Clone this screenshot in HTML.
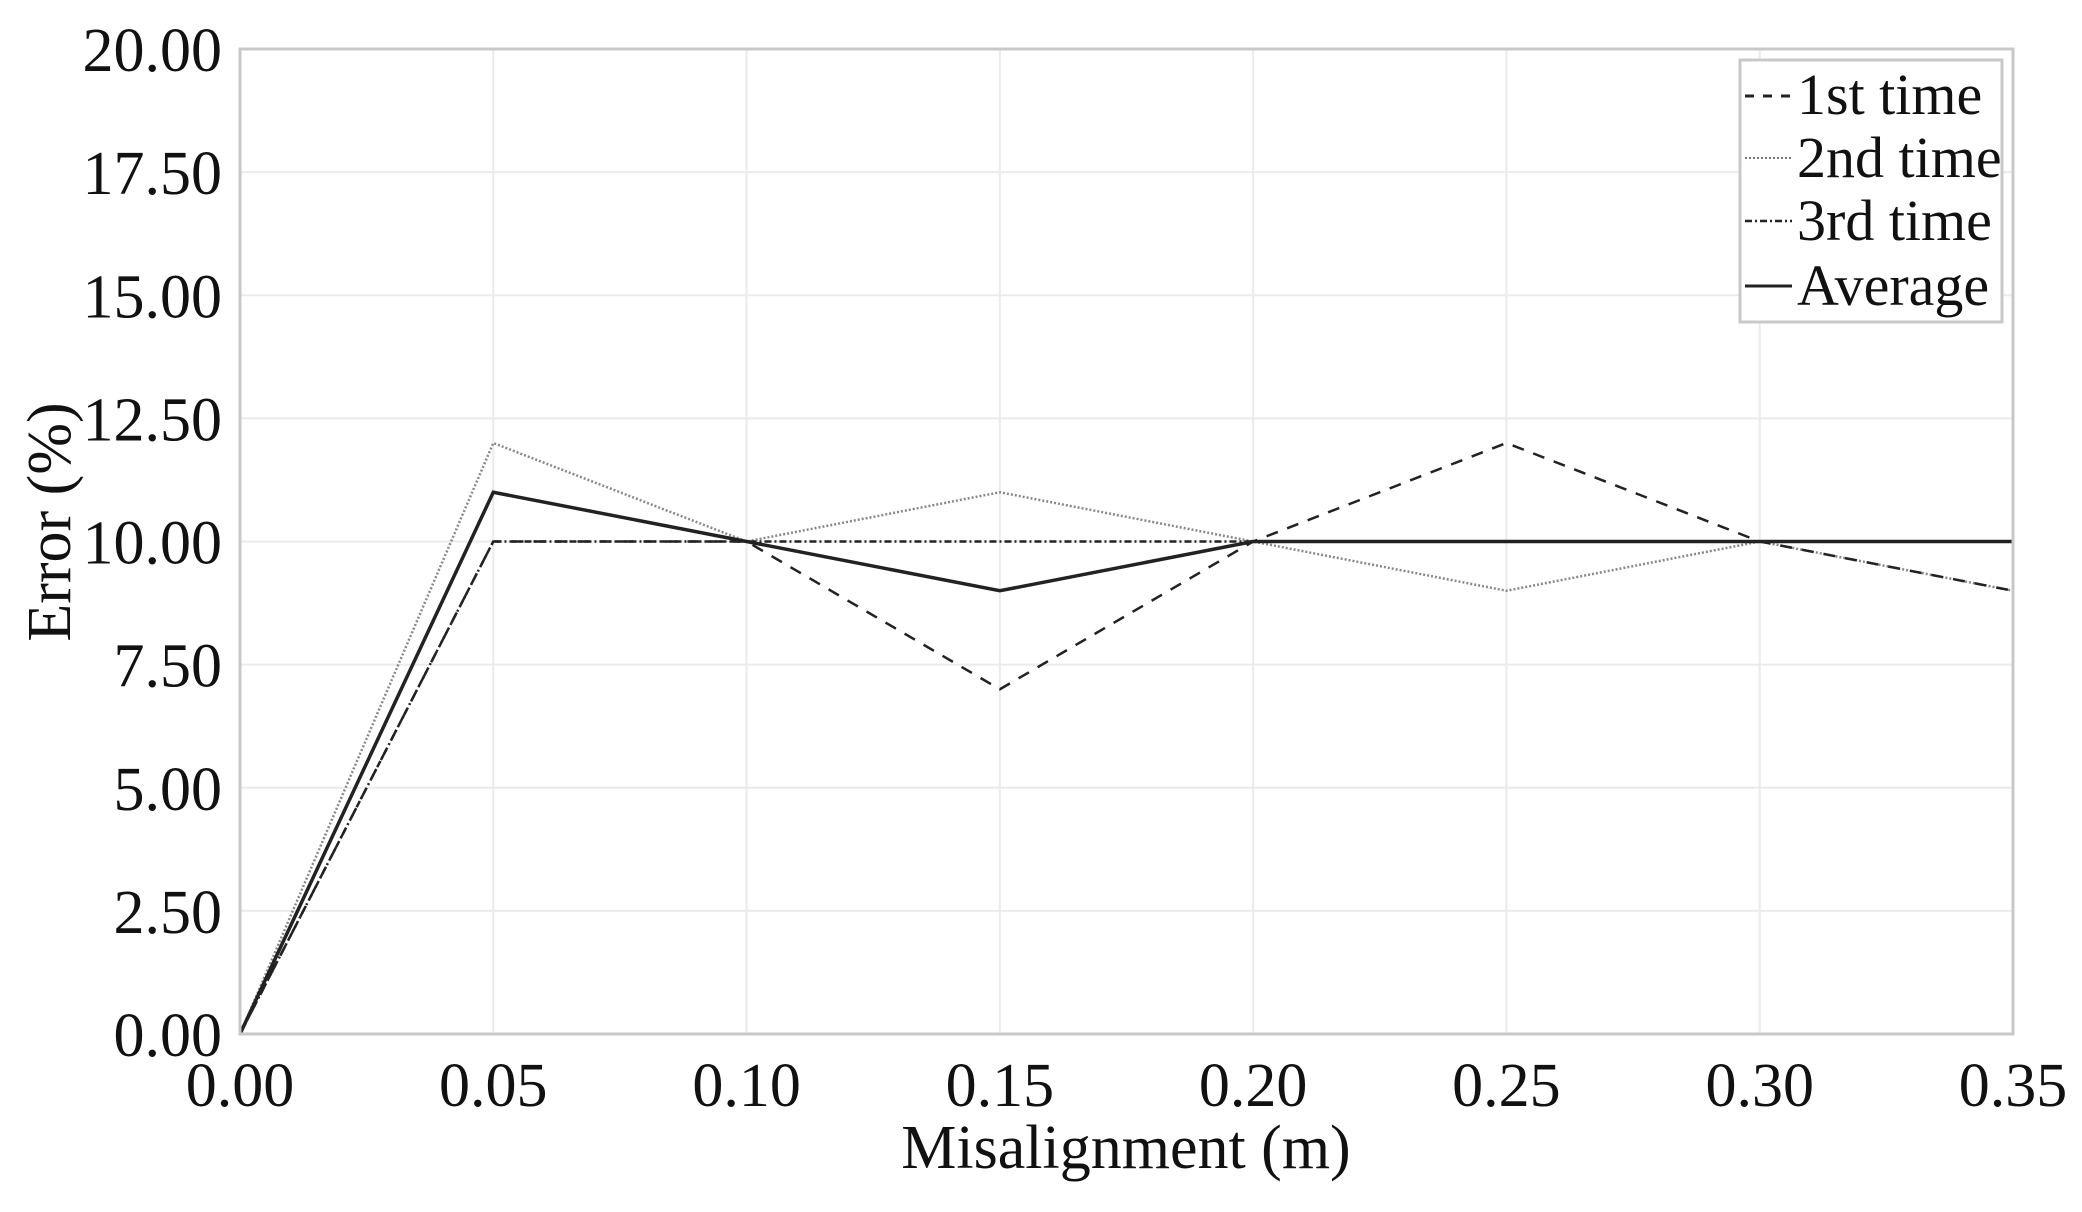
<!DOCTYPE html>
<html><head><meta charset="utf-8"><style>
html,body{margin:0;padding:0;background:#fff;}
svg{display:block;font-family:"Liberation Serif",serif;}
</style></head><body>
<svg id="chart" width="2082" height="1212" viewBox="0 0 2082 1212" xmlns="http://www.w3.org/2000/svg">
<g id="grid"></g>
<g id="series"></g>
<rect x="240" y="49" width="1773" height="985" fill="none" stroke="#c8c8c8" stroke-width="3"/>
<g id="ticks" font-size="62" fill="#111"></g>
<text x="1126" y="1168" font-size="62" text-anchor="middle" fill="#111">Misalignment (m)</text>
<text transform="translate(50,522) rotate(-90)" font-size="62" text-anchor="middle" dominant-baseline="central" fill="#111">Error (%)</text>
<g>
<rect x="1740" y="60" width="262" height="262" fill="#fff" stroke="#c8c8c8" stroke-width="3"/>
<line x1="1745" y1="96" x2="1792" y2="96" stroke="#222" stroke-width="3" stroke-dasharray="9,9"/>
<text x="1797" y="114" font-size="58" fill="#111">1st time</text>
<line x1="1745" y1="158" x2="1792" y2="158" stroke="#777" stroke-width="2" stroke-dasharray="2,2"/>
<text x="1797" y="177" font-size="58" fill="#111">2nd time</text>
<line x1="1745" y1="221" x2="1792" y2="221" stroke="#222" stroke-width="2.5" stroke-dasharray="7,3,2,3"/>
<text x="1797" y="240" font-size="58" fill="#111">3rd time</text>
<line x1="1745" y1="286" x2="1792" y2="286" stroke="#222" stroke-width="3"/>
<text x="1797" y="305" font-size="58" fill="#111">Average</text>
</g>
</svg>
<script>
const xValues = [0, 0.05, 0.10, 0.15, 0.20, 0.25, 0.30, 0.35];
const first = [0, 10, 10, 7, 10, 12, 10, 9];
const second = [0, 12, 10, 11, 10, 9, 10, 9];
const third = [0, 10, 10, 10, 10, 10, 10, 10];
const average = [0, 11, 10, 9, 10, 10, 10, 10];
const xTicks = ["0.00","0.05","0.10","0.15","0.20","0.25","0.30","0.35"];
const yTicks = ["0.00","2.50","5.00","7.50","10.00","12.50","15.00","17.50","20.00"];

const NS="http://www.w3.org/2000/svg";
const L=240,R=2013,T=49,B=1034;
const xS=v=>L+(v-0)/(0.35)*(R-L);
const yS=v=>B-(v/20)*(B-T);
const grid=document.getElementById('grid'),ticks=document.getElementById('ticks'),ser=document.getElementById('series');
xTicks.forEach(t=>{
  const v=parseFloat(t),x=xS(v);
  const g=document.createElementNS(NS,'line');
  
  
  g.setAttribute('x1',x);g.setAttribute('x2',x);g.setAttribute('y1',T);g.setAttribute('y2',B);
  g.setAttribute('stroke','#ebebeb');g.setAttribute('stroke-width','2');grid.appendChild(g);
  const tx=document.createElementNS(NS,'text');
  
  
  tx.setAttribute('x',x);tx.setAttribute('y',1106);tx.setAttribute('text-anchor','middle');
  tx.textContent=t;ticks.appendChild(tx);
});
yTicks.forEach(t=>{
  const v=parseFloat(t),y=yS(v);
  const g=document.createElementNS(NS,'line');
  
  
  g.setAttribute('x1',L);g.setAttribute('x2',R);g.setAttribute('y1',y);g.setAttribute('y2',y);
  g.setAttribute('stroke','#ebebeb');g.setAttribute('stroke-width','2');grid.appendChild(g);
  const tx=document.createElementNS(NS,'text');
  
  
  tx.setAttribute('x',222);tx.setAttribute('y',y+22);tx.setAttribute('text-anchor','end');
  tx.textContent=t;ticks.appendChild(tx);
});
function draw(arr,name,color,w,dash){
  const p=document.createElementNS(NS,'polyline');
  
  
  p.setAttribute('points',arr.map((v,i)=>xS(xValues[i])+','+yS(v)).join(' '));
  p.setAttribute('fill','none');p.setAttribute('stroke',color);p.setAttribute('stroke-width',w);
  if(dash)p.setAttribute('stroke-dasharray',dash);
  ser.appendChild(p);
}
draw(second,'series-2nd-time','#888',2.5,'2,2');
draw(third,'series-3rd-time','#222',2.5,'7,3,2,3');
draw(first,'series-1st-time','#222',2.5,'12,10');
draw(average,'series-average','#222',3.5,null);
</script>
</body></html>
